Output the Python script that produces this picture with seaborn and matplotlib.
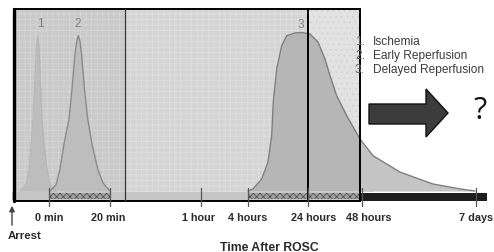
import numpy as np
import pandas as pd
import seaborn as sns
import matplotlib
matplotlib.use("Agg")
import matplotlib.pyplot as plt
from matplotlib.patches import Rectangle, Polygon

sns.set_theme(style="white")
plt.rcParams['font.family'] = ['Liberation Sans', 'DejaVu Sans']
plt.rcParams['hatch.linewidth'] = 0.5

# ---------------- data (schematic) ----------------
tick_labels = ["0 min", "20 min", "1 hour", "4 hours", "24 hours", "48 hours", "7 days"]
tick_pos = [49, 110, 201, 248, 308, 362, 476]
label_pos = [49, 108, 198, 248, 314, 369, 476]

legend_items = ["Ischemia", "Early Reperfusion", "Delayed Reperfusion"]
peak_labels = ["1", "2", "3"]

# curve 1: ischemia (position, relative intensity %)
c1_x = [20, 26, 29, 31, 33, 35, 36.3, 37.7, 39.1, 40.4, 42, 44, 47, 50, 56]
c1_y = [0, 4.4, 13.8, 29.6, 45.3, 70.4, 90, 97.7, 90, 70.4, 45.3, 29.6, 13.8, 4.4, 0]
# curve 2: early reperfusion
c2_x = [50, 56, 60, 64, 69, 72, 75, 76.7, 78.3, 80, 81.5, 84.5, 87.7, 92, 97.7, 103, 110]
c2_y = [0, 3.8, 13.8, 29.6, 45.3, 64.2, 86.2, 94.3, 97.7, 94.3, 86.2, 64.2, 45.3, 29.6, 13.8, 5, 0]
# curve 3: delayed reperfusion
c3_x = [248, 253, 261.7, 268, 271.7, 273.3, 276.7, 281.7, 286.7, 295, 302, 310, 318, 325,
        330, 336.7, 346.7, 360, 373, 400, 433, 460, 475]
c3_y = [0, 1.3, 7.5, 18.2, 34.8, 56, 76.7, 91.4, 97.7, 99.4, 99.7, 98.7, 93.7, 83,
        72.5, 59.9, 47.4, 32.7, 22.2, 11.9, 4.4, 1.3, 0]

W, H = 494, 253


def r2y(row):
    # convert a pixel row of the layout to the intensity scale
    return (192 - row) / 159 * 100


def fx(px):
    return px / W


def fy(row):
    return 1 - row / H


fig = plt.figure(figsize=(W / 100, H / 100), dpi=100)
ax = fig.add_axes([0, 0, 1, 1])
ax.set_xlim(0, W)
ax.set_ylim(r2y(H), r2y(0))
ax.axis("off")

# background regions
ax.add_patch(Rectangle((14, r2y(202)), 125 - 14, r2y(10) - r2y(202), facecolor="#cacaca",
                       edgecolor="#d6d6d6", hatch="+++", lw=0, zorder=0))
ax.add_patch(Rectangle((125, r2y(202)), 308 - 125, r2y(10) - r2y(202), facecolor="#d5d5d5",
                       edgecolor="#e0e0e0", hatch="+++", lw=0, zorder=0))
ax.add_patch(Rectangle((308, r2y(202)), 360 - 308, r2y(10) - r2y(202), facecolor="#e2e2e2",
                       edgecolor="#d2d2d2", hatch="...", lw=0, zorder=0))

# curves
d1 = pd.DataFrame({"x": c1_x, "y": c1_y})
d2 = pd.DataFrame({"x": c2_x, "y": c2_y})
d3 = pd.DataFrame({"x": c3_x, "y": c3_y})

ax.fill_between(d1["x"], 0, d1["y"], color="#bdbdbd", lw=0, zorder=2)
sns.lineplot(data=d1, x="x", y="y", ax=ax, color="#b6b6b6", lw=0.8, sort=False, zorder=3)

ax.fill_between(d2["x"], 0, d2["y"], color="#bdbdbd", lw=0, zorder=2)
sns.lineplot(data=d2, x="x", y="y", ax=ax, color="#8a8a8a", lw=1.0, sort=False, zorder=3)

x3 = np.array(c3_x)
ax.fill_between(d3["x"], 0, d3["y"], where=x3 <= 360, interpolate=True, color="#b6b6b6", lw=0, zorder=2)
ax.fill_between(d3["x"], 0, d3["y"], where=x3 >= 360, interpolate=True, color="#c4c4c4", lw=0, zorder=2)
sns.lineplot(data=d3, x="x", y="y", ax=ax, color="#7e7e7e", lw=1.0, sort=False, zorder=3)

# baseline bar
ax.add_patch(Rectangle((12, r2y(201)), 360 - 12, r2y(193) - r2y(201), facecolor="#c6c6c6",
                       lw=0, zorder=4))
for a, b in [(49, 110), (248, 360)]:
    ax.add_patch(Rectangle((a, r2y(200)), b - a, r2y(194) - r2y(200), facecolor="#a0a0a0",
                           edgecolor="#4a4a4a", hatch="xxxxx", lw=0, zorder=5))
ax.add_patch(Rectangle((360, r2y(201.5)), 487 - 360, r2y(193.5) - r2y(201.5), facecolor="#1e1e1e",
                       lw=0, zorder=4))

# box and dividers
ax.add_patch(Rectangle((14, r2y(202)), 360 - 14, r2y(10) - r2y(202), facecolor="none",
                       edgecolor="black", lw=1.4, zorder=6))
ax.plot([14, 14], [r2y(202), r2y(10)], color="black", lw=2.4, zorder=6)
ax.plot([125, 125], [r2y(202), r2y(10)], color="#333333", lw=0.9, zorder=6)
ax.plot([308, 308], [r2y(202), r2y(10)], color="black", lw=1.4, zorder=6)

# ticks
for p in tick_pos:
    ax.plot([p, p], [r2y(189), r2y(207)], color="#555555", lw=0.9, zorder=7)

# tick labels
for lab, p in zip(tick_labels, label_pos):
    fig.text(fx(p), fy(218), lab, ha="center", va="center", fontsize=7.8,
             fontweight="bold", color="#2a2a2a")

fig.text(fx(8), fy(236), "Arrest", ha="left", va="center", fontsize=8.2,
         fontweight="bold", color="#2a2a2a")
ax.annotate("", xy=(12, r2y(204)), xytext=(12, r2y(229)),
            arrowprops=dict(arrowstyle="-|>", color="#444444", lw=1.0,
                            mutation_scale=8))
fig.text(fx(269), fy(248), "Time After ROSC", ha="center", va="center", fontsize=8.8,
         fontweight="bold", color="#2a2a2a")

# peak labels
for lab, (px, row) in zip(peak_labels, [(40.7, 24), (77.7, 24), (300.3, 25)]):
    fig.text(fx(px), fy(row), lab, ha="center", va="center", fontsize=8.5,
             color="#808080")

# legend text
for i, item in enumerate(legend_items):
    row = 42 + 14 * i
    fig.text(fx(355), fy(row), f"{i + 1}.", ha="left", va="center", fontsize=8.6,
             color="#666666")
    fig.text(fx(373), fy(row), item, ha="left", va="center", fontsize=8.6,
             color="#3c3c3c")

# block arrow
arrow = Polygon([(369, r2y(105)), (426, r2y(105)), (426, r2y(90)), (448, r2y(114)),
                 (426, r2y(138)), (426, r2y(125)), (369, r2y(125))],
                closed=True, facecolor="#3c3c3c", edgecolor="#111111", lw=1.0, zorder=6)
ax.add_patch(arrow)

fig.text(fx(480), fy(111), "?", ha="center", va="center", fontsize=22,
         family=["Open Sans", "DejaVu Sans"], color="#111111")

fig.savefig("out.png", dpi=100)
